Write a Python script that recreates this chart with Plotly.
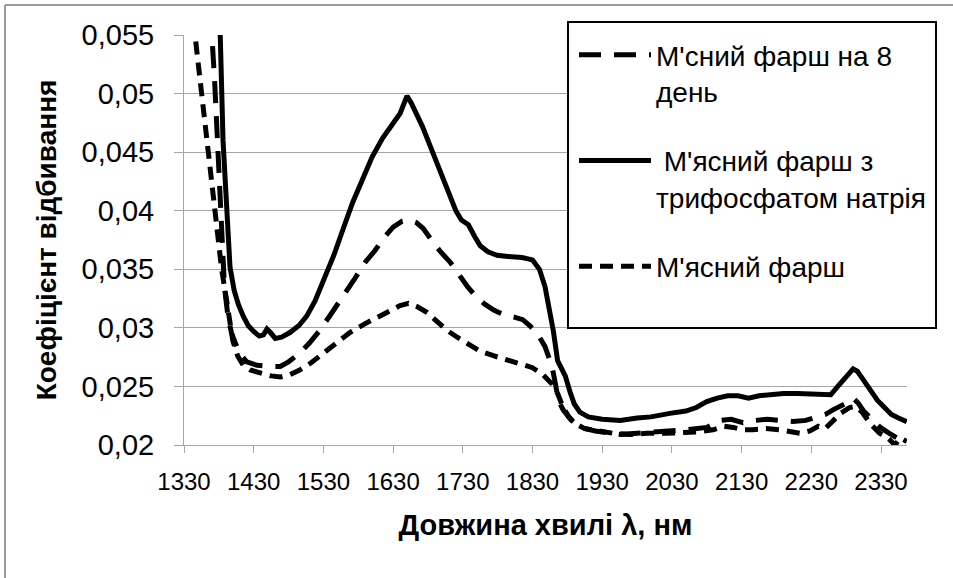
import plotly.graph_objects as go

# ---------------- data ----------------
series_names = [
    "М'сний фарш на 8<br>день",
    " М'ясний фарш з<br>трифосфатом натрія",
    "М'ясний фарш",
]

x_day8 = [1362, 1370, 1374, 1377, 1380, 1384, 1388, 1393, 1398, 1403, 1410, 1420, 1435, 1453,
          1468, 1480, 1495, 1510, 1525, 1540, 1558, 1575, 1590, 1604, 1617, 1630, 1643, 1654,
          1663, 1673, 1685, 1698, 1712, 1725, 1737, 1750, 1762, 1775, 1790, 1805, 1816, 1826,
          1836, 1848, 1858, 1863, 1867, 1874, 1886, 1898, 1920, 1956, 1985, 2017, 2050, 2080,
          2099, 2115, 2132, 2150, 2167, 2185, 2204, 2222, 2238, 2250, 2261, 2273, 2281, 2290,
          2297, 2305, 2318, 2329, 2342, 2357, 2367]
y_day8 = [0.060, 0.0550, 0.0510, 0.0470, 0.0430, 0.0375, 0.0335, 0.0310, 0.0296, 0.0288, 0.0278,
          0.0271, 0.0268, 0.0267, 0.0267, 0.0271, 0.0278, 0.0287, 0.0298, 0.0311, 0.0326, 0.0342,
          0.0356, 0.0366, 0.0377, 0.0386, 0.0391, 0.0392, 0.0390, 0.0385, 0.0375, 0.0365, 0.0356,
          0.0345, 0.0335, 0.0326, 0.0320, 0.0315, 0.0311, 0.0309, 0.0307, 0.0302, 0.0296, 0.0284,
          0.0267, 0.0252, 0.0238, 0.0230, 0.0221, 0.0215, 0.0212, 0.0209, 0.0210, 0.0211, 0.0213,
          0.0215, 0.0221, 0.0222, 0.0219, 0.0221, 0.0222, 0.0221, 0.0220, 0.0221, 0.0224, 0.0226,
          0.0230, 0.0233, 0.0236, 0.0240, 0.0236, 0.0229, 0.0221, 0.0215, 0.0210, 0.0204, 0.0201]

x_tpp = [1375, 1382, 1386, 1390, 1396, 1402, 1408, 1415, 1422, 1430, 1438, 1444, 1449, 1454,
         1461, 1470, 1482, 1495, 1506, 1518, 1529, 1545, 1558, 1572, 1587, 1600, 1615, 1630,
         1640, 1646, 1650, 1656, 1663, 1672, 1680, 1690, 1700, 1710, 1720, 1728, 1738, 1747,
         1755, 1766, 1779, 1795, 1815, 1830, 1840, 1848, 1855, 1860, 1866, 1872, 1877, 1884,
         1890, 1898, 1910, 1930, 1956, 1980, 2000, 2027, 2050, 2065, 2080, 2095, 2110, 2125,
         2140, 2155, 2170, 2190, 2210, 2235, 2250, 2258, 2268, 2280, 2290, 2296, 2305, 2315,
         2325, 2335, 2345, 2355, 2367]
y_tpp = [0.062, 0.055, 0.046, 0.041, 0.0352, 0.0332, 0.0320, 0.0310, 0.0302, 0.0297, 0.0293,
         0.0294, 0.0299, 0.0296, 0.0291, 0.0292, 0.0296, 0.0302, 0.0310, 0.0323, 0.0338, 0.0362,
         0.0384, 0.0407, 0.0428, 0.0446, 0.0462, 0.0475, 0.0483, 0.0492, 0.0498, 0.0492, 0.0484,
         0.0472, 0.0460, 0.0445, 0.0430, 0.0414, 0.0400, 0.0392, 0.0388, 0.0378, 0.0370, 0.0365,
         0.0362, 0.0361, 0.0360, 0.0358, 0.0350, 0.0335, 0.0315, 0.0297, 0.0272, 0.0265, 0.0259,
         0.0245, 0.0235, 0.0228, 0.0224, 0.0222, 0.0221, 0.0223, 0.0224, 0.0227, 0.0229, 0.0232,
         0.0237, 0.0240, 0.0242, 0.0242, 0.0240, 0.0242, 0.0243, 0.0244, 0.0244, 0.0244, 0.0243,
         0.0243, 0.0250, 0.0259, 0.0265, 0.0263, 0.0255, 0.0247, 0.0238, 0.0232, 0.0226, 0.0223,
         0.0220]

x_plain = [1340, 1346, 1353, 1360, 1367, 1372, 1377, 1384, 1391, 1396, 1400, 1407, 1415, 1425,
           1440, 1455, 1468, 1482, 1496, 1512, 1529, 1548, 1568, 1588, 1607, 1625, 1640, 1652,
           1665, 1679, 1693, 1707, 1722, 1740, 1755, 1775, 1793, 1812, 1830, 1845, 1858, 1866,
           1874, 1882, 1892, 1905, 1925, 1946, 1970, 1994, 2020, 2042, 2065, 2089, 2105, 2118,
           2132, 2146, 2165, 2185, 2200, 2214, 2228, 2240, 2250, 2260, 2272, 2285, 2293, 2303,
           2315, 2328, 2340, 2350, 2358, 2367]
y_plain = [0.058, 0.0548, 0.0509, 0.0470, 0.0437, 0.0405, 0.0381, 0.0350, 0.0324, 0.0303, 0.0289,
           0.0276, 0.0268, 0.0264, 0.0261, 0.0259, 0.0258, 0.0260, 0.0264, 0.0270, 0.0278, 0.0287,
           0.0296, 0.0303, 0.0309, 0.0315, 0.0319, 0.0321, 0.0318, 0.0313, 0.0305, 0.0298, 0.0292,
           0.0286, 0.0280, 0.0276, 0.0273, 0.0270, 0.0266, 0.0260, 0.0252, 0.0244, 0.0232, 0.0224,
           0.0218, 0.0214, 0.0212, 0.0210, 0.0209, 0.0210, 0.0210, 0.0210, 0.0211, 0.0213, 0.0216,
           0.0215, 0.0213, 0.0213, 0.0214, 0.0213, 0.0211, 0.0210, 0.0212, 0.0216, 0.0214, 0.0220,
           0.0227, 0.0232, 0.0233, 0.0228, 0.0218, 0.0210, 0.0206, 0.0200, 0.0206, 0.0203]

x_tick_vals = [1330, 1430, 1530, 1630, 1730, 1830, 1930, 2030, 2130, 2230, 2330]
x_tick_text = ["1330", "1430", "1530", "1630", "1730", "1830", "1930", "2030", "2130", "2230", "2330"]
y_tick_vals = [0.02, 0.025, 0.03, 0.035, 0.04, 0.045, 0.05, 0.055]
y_tick_text = ["0,02", "0,025", "0,03", "0,035", "0,04", "0,045", "0,05", "0,055"]

x_title = "Довжина хвилі λ, нм"
y_title = "Коефіцієнт відбивання"

# ---------------- figure ----------------
W, H = 953, 578
L, R, T, B = 184, 46, 35, 133
PW, PH = W - L - R, H - T - B


def px(x):
    return (x - L) / PW


def py(y):
    return (H - B - y) / PH


FONT = "Liberation Sans"
GRID = "#a6a6a6"

fig = go.Figure()
fig.add_trace(go.Scatter(x=x_day8, y=y_day8, mode="lines", name=series_names[0],
                         legendgroup="a",
                         line=dict(color="black", width=5, dash="22px,13px")))
fig.add_trace(go.Scatter(x=x_tpp, y=y_tpp, mode="lines", name=series_names[1],
                         legendgroup="b",
                         line=dict(color="black", width=5)))
fig.add_trace(go.Scatter(x=x_plain, y=y_plain, mode="lines", name=series_names[2],
                         legendgroup="c",
                         line=dict(color="black", width=5, dash="13px,8px")))

fig.update_layout(
    width=W, height=H,
    margin=dict(l=L, r=R, t=T, b=B, autoexpand=False),
    paper_bgcolor="white", plot_bgcolor="white",
    font=dict(family=FONT, color="black"),
    showlegend=True,
    legend=dict(
        x=px(574), y=py(30), xanchor="left", yanchor="top",
        bgcolor="rgba(0,0,0,0)", borderwidth=0,
        font=dict(family=FONT, size=28, color="black"),
        itemwidth=72, valign="top",
        traceorder="grouped", tracegroupgap=30,
    ),
    shapes=[
        dict(type="rect", xref="paper", yref="paper",
             x0=px(568), x1=px(936), y0=py(328), y1=py(22),
             fillcolor="white", line=dict(color="black", width=2), layer="above"),
        dict(type="line", xref="paper", yref="paper",
             x0=px(5), x1=px(953), y0=py(5), y1=py(5),
             line=dict(color="#9a9a9a", width=2)),
        dict(type="line", xref="paper", yref="paper",
             x0=px(5), x1=px(5), y0=py(5), y1=py(578),
             line=dict(color="#9a9a9a", width=2)),
    ],
)

fig.update_xaxes(
    range=[1330, 2367.3],
    tickmode="array", tickvals=x_tick_vals, ticktext=x_tick_text,
    ticks="outside", ticklen=7, tickcolor=GRID, tickwidth=1,
    showline=True, linecolor=GRID, linewidth=1,
    showgrid=False, zeroline=False,
    tickfont=dict(family=FONT, size=24, color="black"),
    ticklabelstandoff=8,
    title=dict(text="<b>" + x_title + "</b>", standoff=20,
               font=dict(family=FONT, size=29, color="black")),
)
fig.update_yaxes(
    range=[0.02, 0.055],
    tickmode="array", tickvals=y_tick_vals, ticktext=y_tick_text,
    ticks="outside", ticklen=9, tickcolor=GRID, tickwidth=1,
    showline=True, linecolor=GRID, linewidth=1,
    showgrid=True, gridcolor=GRID, gridwidth=1,
    zeroline=False,
    tickfont=dict(family=FONT, size=29, color="black"),
    ticklabelstandoff=14,
    title=dict(text="<b>" + y_title + "</b>", standoff=16,
               font=dict(family=FONT, size=28, color="black")),
)

fig.write_html("out.html", config={"displayModeBar": False},
               post_script="document.body.style.margin='0px';")
